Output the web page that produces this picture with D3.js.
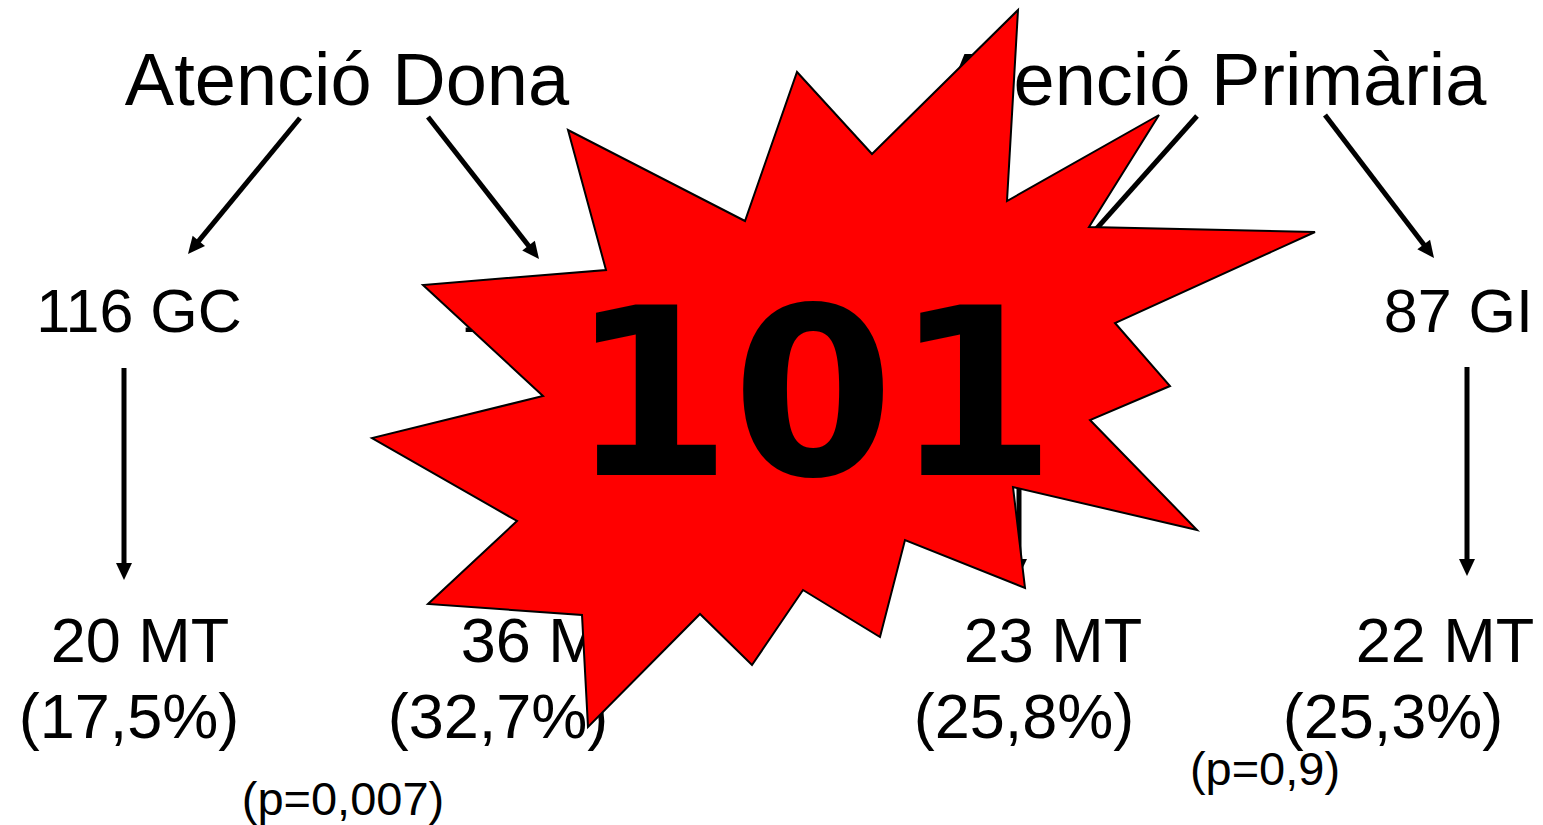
<!DOCTYPE html>
<html>
<head>
<meta charset="utf-8">
<script src="https://cdn.jsdelivr.net/npm/d3@7"></script>
<style>
  html, body { margin: 0; padding: 0; background: #fff; }
  svg { display: block; }
  text { font-family: "Liberation Sans", Arial, sans-serif; fill: #000; }
</style>
</head>
<body>
<script>
// ---- data ----
const sources = ["Atenció Dona", "Atenció Primària"];
const groups = ["GC", "GI", "GC", "GI"];
const groupCounts = [116, 110, 89, 87];
const mtCounts = [20, 36, 23, 22];
const mtPercents = ["17,5", "32,7", "25,8", "25,3"];
const pValues = ["0,007", "0,9"];
const totalLabel = "101";

// ---- layout (positions only) ----
const W = 1543, H = 825;
const svg = d3.select("body").append("svg").attr("width", W).attr("height", H);

const sourcePos = [{x: 347, y: 105}, {x: 1215, y: 105}];
const groupPos = [{x: 139, y: 332, a: "middle"}, {x: 461, y: 332, a: "start"},
                  {x: 1030, y: 332, a: "middle"}, {x: 1533, y: 332, a: "end"}];
const mtPos = [{x: 140, y: 662}, {x: 550, y: 662}, {x: 1053, y: 662}, {x: 1445, y: 662}];
const pctPos = [{x: 129, y: 738}, {x: 498, y: 738}, {x: 1024, y: 738}, {x: 1393, y: 738}];
const pPos = [{x: 343, y: 815}, {x: 1265, y: 785}];

const arrows = [
  [300, 118, 188, 254], [428, 117, 539, 259],
  [1197, 116, 1073, 255], [1325, 115, 1434, 258],
  [124, 368, 124, 580], [556, 368, 556, 579],
  [1019, 368, 1019, 576], [1467, 367, 1467, 576]
];

const g = svg.append("g");

g.selectAll("text.src").data(sources).enter().append("text")
  .attr("class", "src")
  .attr("x", (d, i) => sourcePos[i].x).attr("y", (d, i) => sourcePos[i].y)
  .attr("text-anchor", "middle").attr("font-size", 74)
  .text(d => d);

g.selectAll("text.grp").data(groupCounts).enter().append("text")
  .attr("class", "grp")
  .attr("x", (d, i) => groupPos[i].x).attr("y", (d, i) => groupPos[i].y)
  .attr("text-anchor", (d, i) => groupPos[i].a).attr("font-size", 61)
  .text((d, i) => d + " " + groups[i]);

// arrows: shaft + triangular head
const headLen = 17, headHalf = 8;
const arr = g.selectAll("g.arr").data(arrows).enter().append("g").attr("class", "arr");
arr.append("line")
  .attr("x1", d => d[0]).attr("y1", d => d[1])
  .attr("x2", d => { const L = Math.hypot(d[2]-d[0], d[3]-d[1]); return d[2] - (d[2]-d[0]) / L * (headLen - 2); })
  .attr("y2", d => { const L = Math.hypot(d[2]-d[0], d[3]-d[1]); return d[3] - (d[3]-d[1]) / L * (headLen - 2); })
  .attr("stroke", "#000").attr("stroke-width", 5);
arr.append("path")
  .attr("d", d => {
    const L = Math.hypot(d[2]-d[0], d[3]-d[1]);
    const ux = (d[2]-d[0]) / L, uy = (d[3]-d[1]) / L;
    const bx = d[2] - ux * headLen, by = d[3] - uy * headLen;
    return d3.line()([[d[2], d[3]], [bx - uy * headHalf, by + ux * headHalf], [bx + uy * headHalf, by - ux * headHalf]]) + "Z";
  })
  .attr("fill", "#000");

g.selectAll("text.mt").data(mtCounts).enter().append("text")
  .attr("class", "mt")
  .attr("x", (d, i) => mtPos[i].x).attr("y", (d, i) => mtPos[i].y)
  .attr("text-anchor", "middle").attr("font-size", 63)
  .text(d => d + " MT");

g.selectAll("text.pct").data(mtPercents).enter().append("text")
  .attr("class", "pct")
  .attr("x", (d, i) => pctPos[i].x).attr("y", (d, i) => pctPos[i].y)
  .attr("text-anchor", "middle").attr("font-size", 63)
  .text(d => "(" + d + "%)");

g.selectAll("text.pv").data(pValues).enter().append("text")
  .attr("class", "pv")
  .attr("x", (d, i) => pPos[i].x).attr("y", (d, i) => pPos[i].y)
  .attr("text-anchor", "middle").attr("font-size", 47)
  .text(d => "(p=" + d + ")");

// ---- starburst ----
const burst = [
  [1018, 10], [1007, 201], [1159, 115], [1089, 227], [1315, 232], [1115, 323],
  [1170, 386], [1090, 420], [1197, 530], [1013, 487], [1025, 588], [905, 540],
  [880, 637], [803, 590], [752, 665], [700, 614], [588, 727], [582, 615],
  [428, 604], [517, 521], [372, 438], [543, 396], [423, 285], [606, 270],
  [568, 130], [745, 221], [797, 72], [872, 154]
];
svg.append("path")
  .attr("d", d3.line()(burst) + "Z")
  .attr("fill", "#ff0000").attr("stroke", "#000").attr("stroke-width", 2)
  .attr("stroke-linejoin", "miter");

svg.append("text")
  .attr("x", 813).attr("y", 475)
  .attr("text-anchor", "middle")
  .attr("font-size", 233).attr("font-weight", "bold")
  .style("font-family", "'DejaVu Sans', Verdana, sans-serif")
  .text(totalLabel);
</script>
</body>
</html>
